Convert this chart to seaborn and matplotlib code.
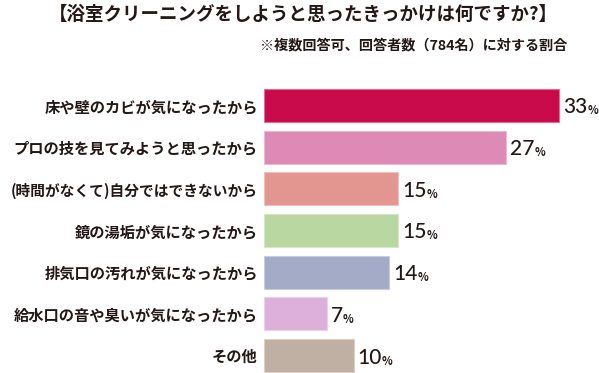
import matplotlib
matplotlib.use("Agg")
import matplotlib.pyplot as plt
import seaborn as sns
import pandas as pd
from matplotlib.colors import to_rgb

categories = [
    "床や壁のカビが気になったから",
    "プロの技を見てみようと思ったから",
    "(時間がなくて)自分ではできないから",
    "鏡の湯垢が気になったから",
    "排気口の汚れが気になったから",
    "給水口の音や臭いが気になったから",
    "その他",
]
values = [33, 27, 15, 15, 14, 7, 10]
colors = ["#C90A4B", "#DE8AB6", "#E39690", "#B9D7A1", "#A3ABC7", "#DCB0DA", "#C0B0A3"]
title = "【浴室クリーニングをしようと思ったきっかけは何ですか?】"
subtitle = "※複数回答可、回答者数（784名）に対する割合"

sns.set_theme(style="white")
plt.rcParams["font.family"] = ["Noto Sans CJK JP", "DejaVu Sans"]
TXT = "#231815"

df = pd.DataFrame({"cat": categories, "val": values})

W, H = 599, 373
fig = plt.figure(figsize=(W / 100, H / 100), dpi=100)
ax_left, ax_right = 264, 595
ax_top, ax_bottom = 84, 373
ax = fig.add_axes([ax_left / W, 1 - ax_bottom / H, (ax_right - ax_left) / W, (ax_bottom - ax_top) / H])

edge = [tuple(min(1, c * 0.6 + 0.4) for c in to_rgb(col)) for col in colors]
sns.barplot(data=df, x="val", y="cat", hue="cat", palette=colors, legend=False,
            orient="h", width=0.79, ax=ax, saturation=1)
for p, ec in zip(ax.patches, edge):
    p.set_edgecolor(ec)
    p.set_linewidth(0.8)

ax.set_xlim(0, (ax_right - ax_left) / 8.95)
pitch = 41.67
ax.set_ylim(6 + (ax_bottom - 355.5) / pitch, -(105.5 - ax_top) / pitch)
sns.despine(ax=ax, left=True, bottom=True)
ax.set_xticks([])
ax.set_xlabel("")
ax.set_ylabel("")
ax.tick_params(axis="y", length=0, pad=4.5)
for lbl in ax.get_yticklabels():
    lbl.set_fontsize(10.6 if lbl.get_text().startswith("(") else 11)
    lbl.set_fontweight("bold")
    lbl.set_color(TXT)

for i, v in enumerate(values):
    t = ax.annotate(str(v), xy=(v, i), xytext=(3, 0), textcoords="offset points",
                    va="center_baseline", ha="left", fontsize=15, color=TXT,
                    family=["Lato", "DejaVu Sans"], fontweight="medium")
    ax.annotate("%", xy=(1, 0), xycoords=t, xytext=(0, 0), textcoords="offset points",
                va="bottom", ha="left", fontsize=8, color=TXT, fontweight="bold")

fig.text((55 + 552) / 2 / W, 1 - 14 / H, title, ha="center", va="center",
         fontsize=13.3, fontweight="bold", color=TXT)
fig.text(567 / W, 1 - 45 / H, subtitle, ha="right", va="center",
         fontsize=10.2, fontweight="bold", color=TXT)

fig.savefig("out.png", dpi=100)
